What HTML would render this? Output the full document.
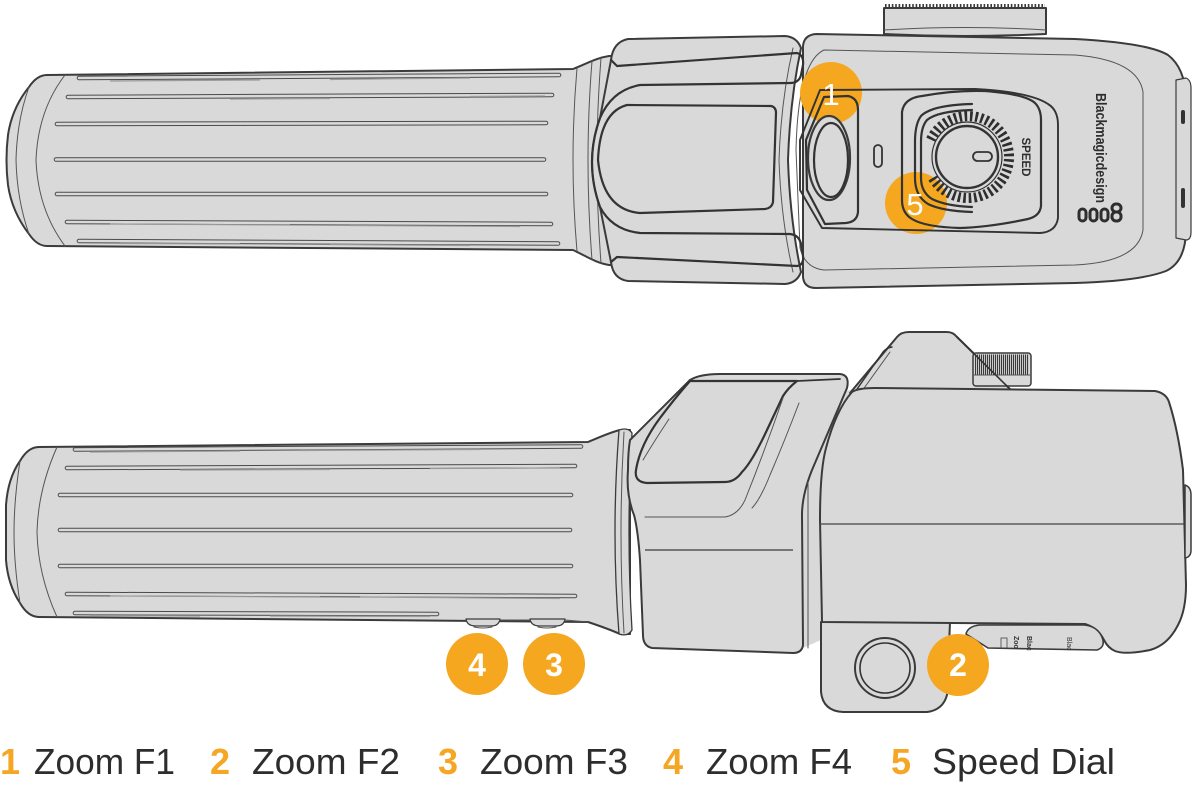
<!DOCTYPE html>
<html><head><meta charset="utf-8"><style>
html,body{margin:0;padding:0;background:#fff;}
svg{display:block;}
</style></head><body>
<svg width="1192" height="787" viewBox="0 0 1192 787" xmlns="http://www.w3.org/2000/svg">
<defs>
<style>
.f{fill:#d9d9d9;stroke:#3b3b3b;stroke-width:2;stroke-linejoin:round}
.k{fill:none;stroke:#333;stroke-width:2.2;stroke-linejoin:round;stroke-linecap:round}
.t{fill:none;stroke:#555;stroke-width:1;stroke-linecap:round}
.rib{fill:none;stroke:#4a4a4a;stroke-width:4.6;stroke-linecap:round}
.ribi{fill:none;stroke:#d9d9d9;stroke-width:2.6;stroke-linecap:round}
.sh{fill:none;stroke:#9a9a9a;stroke-width:1.2}
</style>
</defs>

<!-- TOP VIEW -->
<path class="f" d="M884,8 L1046,8 L1046,34 Q965,38 884,34 Z"/>
<line x1="885" y1="6" x2="1045" y2="6" stroke="#3b3b3b" stroke-width="4" stroke-dasharray="1.6 1.8"/>
<path class="t" d="M884,30 Q965,25 1046,30"/>

<path class="f" d="M803,46 Q804,35 816,34 L1075,39 Q1148,43 1168,55 Q1185,68 1186,98 L1186,232 Q1185,262 1166,271 Q1140,281 1075,283 L816,288 Q804,288 803,277 Z"/>
<path class="t" d="M824,50 L1075,55 Q1138,60 1143,92 L1143,230 Q1138,262 1075,265 L824,270 Q805,268 800,248 L796,150 Q798,62 824,50 Z"/>
<path class="f" style="stroke-width:1.2" d="M1176,80 L1186,78 Q1191,80 1191,88 L1191,232 Q1191,240 1186,240 L1176,238 Z"/>
<rect x="1181" y="110" width="4" height="14" rx="2" fill="#333"/>
<rect x="1181" y="188" width="4" height="20" rx="2" fill="#333"/>

<path class="f" d="M47,75 L573,69 C586,64 596,58 609,56 L622,56 L622,265 L609,265 C596,263 586,256 573,250 L47,246 Q37,246 29,234 Q12,212 8,185 Q5,160 8,135 Q12,108 29,87 Q37,75 47,75 Z"/>
<path class="t" d="M65,75 Q38,110 36,160 Q38,210 65,246"/>
<path class="t" d="M29,87 Q17,120 16,160 Q17,200 29,234"/>
<path class="t" d="M577,68 Q569,160 577,251"/>
<path class="t" d="M592,61 Q584,160 592,260"/>
<path class="t" d="M601,58 Q593,160 601,263"/>
<path class="rib" d="M79,78 L559,75 M68,97 L552,95 M57,124 L546,123 M56,159.5 L544,159.5 M57,194 L546,194 M67,222 L551,224 M79,241 L558,243.5"/>
<path class="ribi" d="M79,78 L559,75 M68,97 L552,95 M57,124 L546,123 M56,159.5 L544,159.5 M57,194 L546,194 M67,222 L551,224 M79,241 L558,243.5"/>
<path class="sh" d="M110,81 L260,80 M330,79.5 L470,78 M230,99 L330,98.5 M470,96.5 L545,96 M110,224 L290,225 M350,225.5 L520,226.5 M120,243.5 L240,244 M330,244.5 L470,245.5"/>

<path class="f" d="M611,60 Q613,42 628,39 L785,36 Q797,37 801,48 Q790,100 788,160 Q790,220 801,272 Q797,283 785,284 L628,281 Q613,279 611,262 L600,207 Q592,185 592,162 Q592,140 600,118 Z"/>
<path class="t" d="M793,48 Q781,100 779,160 Q781,220 793,272"/>
<path class="k" d="M611,60 L617,66 L797,53 Q804,55 803,65 L801,75 Q799,83 790,83 L640,85 Q612,90 600,118 Q592,140 592,162 Q592,185 600,207 Q612,230 640,233 L790,234 Q799,235 801,244 L803,256 Q804,265 797,266 L617,257 L611,262"/>
<path class="k" d="M627,105 L771,106 Q776,107 776,113 L773,202 Q772,208 765,209 L640,213 Q603,210 598,160 Q600,112 627,105 Z"/>

<circle cx="831" cy="93" r="31" fill="#F5A81F"/>
<circle cx="916" cy="203" r="31" fill="#F5A81F"/>

<path class="k" style="stroke-width:1.9" d="M820,90 L975,89 Q1030,92 1048,104 Q1058,110 1058,125 L1058,218 Q1056,232 1040,233 L822,228 L800,190 L800,140 Z"/>
<path class="k" d="M824,97 L848,96 Q858,98 858,110 L858,212 Q857,222 846,223 L825,224 L807,190 L806,140 Z"/>
<ellipse cx="829" cy="158" rx="21" ry="42" class="f" style="stroke-width:2.2"/>
<ellipse cx="831" cy="160" rx="17" ry="37" class="k"/>
<rect x="874" y="145" width="8" height="22" rx="4" class="k" style="stroke-width:1.8"/>

<path class="k" d="M902,112 Q904,98 922,96 Q955,90 985,91 Q1025,94 1035,103 Q1041,109 1041,120 L1041,206 Q1040,216 1028,219 Q990,227 960,228 Q925,227 912,219 Q902,213 902,200 Z"/>
<path class="k" d="M972,104 Q932,105 921,116 Q915,124 915,142 L915,178 Q915,196 928,204 Q942,211 972,212"/>
<path class="k" d="M972,110 Q938,111 927,120 Q921,127 921,142 L921,178 Q921,192 932,199 Q946,206 972,207"/>
<path d="M930.9,139.7 A41,41 0 1 1 931.8,176.2" fill="none" stroke="#2e2e2e" stroke-width="10" stroke-dasharray="2.6 2.77"/>
<circle cx="967" cy="157" r="35" fill="none" stroke="#333" stroke-width="1.2"/>
<circle cx="967" cy="157" r="31" fill="#d9d9d9" stroke="#333" stroke-width="2.4"/>
<rect x="973" y="152" width="19" height="9" rx="4.5" class="k" style="stroke-width:1.8"/>
<text transform="translate(1022,157) rotate(90)" text-anchor="middle" font-family="Liberation Sans, sans-serif" font-weight="bold" font-size="11.5" fill="#2e2e2e">SPEED</text>

<text transform="translate(1096,93) rotate(90)" font-family="Liberation Sans, sans-serif" font-weight="bold" font-size="15" textLength="110" lengthAdjust="spacingAndGlyphs" fill="#2e2e2e">Blackmagicdesign</text>
<g fill="none" stroke="#2e2e2e" stroke-width="3">
<rect x="1079" y="209" width="7" height="12" rx="3.5"/>
<rect x="1090" y="209" width="7" height="12" rx="3.5"/>
<rect x="1101" y="209" width="7" height="12" rx="3.5"/>
<rect x="1112" y="204" width="9" height="8" rx="4"/>
<rect x="1112" y="212" width="9" height="9" rx="4"/>
</g>

<text x="831" y="105" text-anchor="middle" font-family="Liberation Sans, sans-serif" font-size="31" fill="#fff">1</text>
<text x="915" y="215" text-anchor="middle" font-family="Liberation Sans, sans-serif" font-size="31" fill="#fff">5</text>

<!-- SIDE VIEW -->
<path fill="#d9d9d9" d="M800,395 L852,390 L822,470 L821,640 L803,648 Z"/>

<path class="f" d="M39,447 L588,442 C600,437 611,432 620,430 L630,430 L630,634 L620,634 C611,630 600,626 588,622 L39,617 Q28,617 20,603 Q8,585 6,560 L6,505 Q8,478 20,461 Q28,447 39,447 Z"/>
<path class="t" d="M57,447 Q38,490 37,532 Q38,575 57,617"/>
<path class="t" d="M20,461 Q14,500 14,532 Q14,565 20,603"/>
<path class="rib" d="M75,449.5 L581,446.5 M67,468 L575,466 M60,495 L571,495 M60,530 L570,530 M60,566 L571,566 M67,594 L575,596 M75,613 L437,614"/>
<path class="ribi" d="M75,449.5 L581,446.5 M67,468 L575,466 M60,495 L571,495 M60,530 L570,530 M60,566 L571,566 M67,594 L575,596 M75,613 L437,614"/>
<path class="sh" d="M90,452 L240,451 M300,450.5 L480,449.5 M180,470 L330,469.5 M430,468.5 L560,468 M110,596 L320,597 M360,597 L560,598.5 M90,615.5 L200,616 M270,616 L430,616.5"/>
<path class="f" style="stroke-width:1.2" d="M466,619 Q467,626 476,626 L491,626 Q499,626 500,619 Z"/>
<path class="t" d="M474,627 Q483,629 492,627"/>
<path class="f" style="stroke-width:1.2" d="M530,619 Q531,626 540,626 L556,626 Q564,626 565,619 Z"/>
<path class="t" d="M538,627 Q547,629 556,627"/>
<path class="t" d="M500,620 L530,620 M565,620 L588,622"/>

<path class="f" style="stroke-width:1.3" d="M619,430 Q628,427 632,433 Q626,532 632,630 Q628,637 619,634 Q611,532 619,430 Z"/>
<path class="t" d="M624,432 Q618,532 624,633"/>

<path class="f" d="M630,440 C650,420 670,400 690,380 Q700,374 720,374 L840,374 Q850,375 847,388 L812,470 Q802,495 802,515 L803,645 Q802,653 793,653 L652,648 Q643,646 643,635 L640,560 Q638,530 634,515 Q626,495 628,470 Q628,452 630,440 Z"/>
<path class="k" style="stroke-width:1.8" d="M797,381 L840,379"/>
<path class="k" d="M690,381 L797,381 Q788,388 783,396 L767,430 Q752,462 742,472 Q735,482 725,482 L647,483 Q634,482 636,470 Q640,445 660,418 Q675,398 690,381 Z"/>
<path class="t" d="M669,419 Q655,440 643,460"/>
<path class="t" d="M783,398 Q765,450 745,500 Q738,515 725,517 L645,517"/>
<path class="t" d="M799,403 Q785,440 770,475 Q760,500 752,508"/>
<path fill="none" stroke="#3b3b3b" stroke-width="1.3" d="M645,550 L793,550"/>
<path class="t" d="M808,482 L808,648"/>

<path class="f" d="M821,622 L821,692 Q823,711 843,712 L927,712 Q943,710 947,695 L950,622 Z"/>

<path class="f" d="M850,393 L897,337 Q901,332 909,332 L947,332 Q953,332 957,337 L1012,391 Z"/>
<path class="k" style="stroke-width:1.4" d="M855,392 L883,352 Q886,348 892,347"/>
<path class="t" d="M862,391 L890,352"/>
<rect x="973" y="353" width="58" height="33" rx="3" class="f" style="stroke-width:1.5"/>
<line x1="975" y1="364.5" x2="1029" y2="364.5" stroke="#3a3a3a" stroke-width="20" stroke-dasharray="1.1 0.9"/>
<path class="t" d="M973,375 L1031,375"/>
<path class="k" style="stroke-width:1.6" d="M957,337 L1012,391"/>

<path class="f" d="M852,392 Q858,388 875,388 L1155,391 Q1166,393 1169,402 Q1178,430 1183,470 L1186,585 Q1186,610 1178,625 Q1168,645 1150,650 Q1125,655 1115,651 Q1108,648 1104,640 Q1098,628 1085,624 L822,622 L820,520 Q820,470 826,448 Q836,410 852,392 Z"/>
<path fill="none" stroke="#444" stroke-width="1.3" d="M820,524 L1186,524"/>
<path class="f" style="stroke-width:1.5" d="M1185,485 Q1191,487 1191,495 L1191,550 Q1191,557 1185,558 Z"/>
<path class="f" style="stroke-width:1.6" d="M966,634 Q968,626 980,625 L1084,625 Q1097,626 1102,637 Q1106,647 1097,650 L988,648 Z"/>
<rect x="1001" y="638" width="6" height="10" fill="none" stroke="#444" stroke-width="0.8"/>
<text transform="translate(1014,636) rotate(90)" font-family="Liberation Sans, sans-serif" font-weight="bold" font-size="7" fill="#333">Zoo</text>
<text transform="translate(1027,636) rotate(90)" font-family="Liberation Sans, sans-serif" font-weight="bold" font-size="7" fill="#333">Blac</text>
<text transform="translate(1067,637) rotate(90)" font-family="Liberation Sans, sans-serif" font-size="7" fill="#333">Blac</text>

<circle cx="885" cy="668" r="30" class="f" style="stroke-width:2"/>
<circle cx="885" cy="668" r="25" fill="none" stroke="#333" stroke-width="1.6"/>

<circle cx="477" cy="664" r="31" fill="#F5A81F"/>
<circle cx="554" cy="664" r="31" fill="#F5A81F"/>
<circle cx="958" cy="665" r="31" fill="#F5A81F"/>
<g font-family="Liberation Sans, sans-serif" font-weight="bold" font-size="32" fill="#fff" text-anchor="middle">
<text x="477" y="676">4</text>
<text x="554" y="676">3</text>
<text x="958" y="676">2</text>
</g>

<!-- LEGEND -->
<g font-family="Liberation Sans, sans-serif" font-size="36">
<text x="0" y="774" fill="#F5A623" font-weight="bold">1</text>
<text x="34" y="774" fill="#2d2d2d" textLength="141" lengthAdjust="spacingAndGlyphs">Zoom F1</text>
<text x="210" y="774" fill="#F5A623" font-weight="bold">2</text>
<text x="252" y="774" fill="#2d2d2d" textLength="148" lengthAdjust="spacingAndGlyphs">Zoom F2</text>
<text x="438" y="774" fill="#F5A623" font-weight="bold">3</text>
<text x="480" y="774" fill="#2d2d2d" textLength="148" lengthAdjust="spacingAndGlyphs">Zoom F3</text>
<text x="663" y="774" fill="#F5A623" font-weight="bold">4</text>
<text x="706" y="774" fill="#2d2d2d" textLength="146" lengthAdjust="spacingAndGlyphs">Zoom F4</text>
<text x="891" y="774" fill="#F5A623" font-weight="bold">5</text>
<text x="932" y="774" fill="#2d2d2d" textLength="183" lengthAdjust="spacingAndGlyphs">Speed Dial</text>
</g>
</svg>
</body></html>
